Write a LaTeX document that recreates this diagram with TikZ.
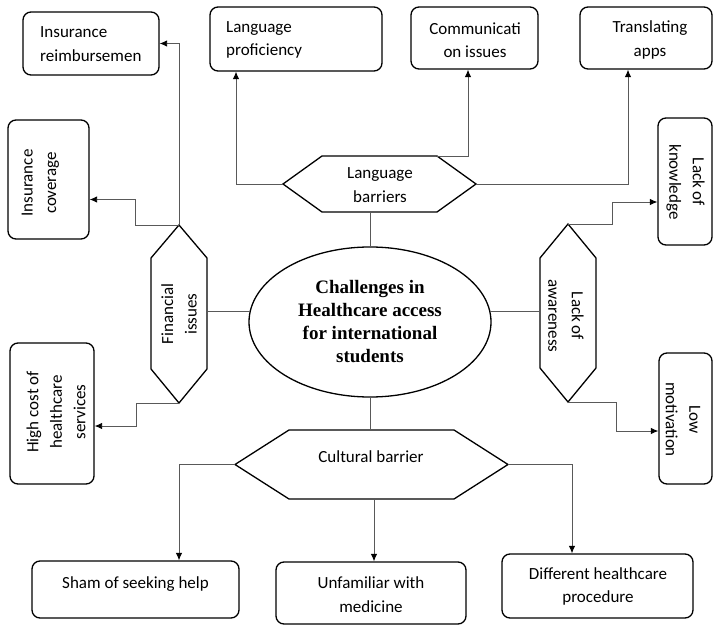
\documentclass[tikz,border=0pt]{standalone}
\usepackage{fontspec}
\setmainfont{Carlito}
\newfontfamily\ctrfont{Liberation Serif}
\usetikzlibrary{arrows.meta,calc,shapes.geometric}
\begin{document}
\begin{tikzpicture}[x=1bp,y=-1bp,
  box/.style={draw=black,line width=1.3bp,rounded corners=8bp,inner sep=0pt},
  txt/.style={font=\fontsize{17bp}{23.5bp}\selectfont,align=center,inner sep=0pt,text=black},
  hex/.style={draw=black,line width=1.3bp,line join=miter},
  link/.style={draw=black!65,line width=0.9bp},
  arr/.style={link,-{Latex[length=7.5bp,width=6.5bp,color=black]}}]
\useasboundingbox (0,0) rectangle (713,625);

% ---------- boxes ----------
\node[box,minimum width=136bp,minimum height=63bp] (ir) at (91,43.5) {};
\node[txt,anchor=west,align=left] (irt) at (40,44) {Insurance\\reimbursemen};
\node[box,minimum width=172bp,minimum height=64bp] (lp) at (296,39) {};
\node[txt,anchor=west,align=left] (lpt) at (226,40) {Language\\proficiency};
\node[box,minimum width=127bp,minimum height=62bp] (ci) at (474.5,38) {};
\node[txt] (cit) at (475,40) {Communicati\\on issues};
\node[box,minimum width=132bp,minimum height=62bp] (ta) at (646,38) {};
\node[txt] (tat) at (650,40) {Translating\\apps};

\node[box,minimum width=81bp,minimum height=119bp] (ic) at (48.5,179.5) {};
\node[txt,rotate=90] (ict) at (40.5,183) {Insurance\\coverage};
\node[box,minimum width=84bp,minimum height=141bp] (hc) at (52,413.5) {};
\node[txt,rotate=90] (hct) at (56,412) {High cost of\\healthcare\\services};

\node[box,minimum width=54bp,minimum height=127bp] (lk) at (685,181.5) {};
\node[txt,rotate=-90] (lkt) at (685.5,182) {Lack of\\knowledge};
\node[box,minimum width=53bp,minimum height=131bp] (lm) at (685.5,418.5) {};
\node[txt,rotate=-90] (lmt) at (683,419.5) {Low\\motivation};

\node[box,minimum width=207bp,minimum height=57bp] (sh) at (135.5,589.5) {};
\node[txt] (sht) at (135.5,584) {Sham of seeking help};
\node[box,minimum width=190bp,minimum height=62bp] (um) at (371,593) {};
\node[txt] (umt) at (371,594.5) {Unfamiliar with\\medicine};
\node[box,minimum width=191bp,minimum height=64bp] (dh) at (597.5,586) {};
\node[txt] (dht) at (598,586.5) {Different healthcare\\procedure};

% ---------- centre ----------
\node[draw=black,line width=1.3bp,ellipse,minimum width=242bp,minimum height=150bp,inner sep=0pt,
      font=\ctrfont\bfseries\fontsize{19bp}{23bp}\selectfont,align=center] (ctr) at (370,322)
      {Challenges in\\Healthcare access\\for international\\students};

% ---------- hexagons ----------
\coordinate (lb-w) at (283,184); \coordinate (lb-ne) at (437,156);
\coordinate (lb-e) at (476,184); \coordinate (lb-b) at (371,212);
\draw[hex] (lb-w) -- (322,156) -- (lb-ne) -- (lb-e) -- (437,212) -- (322,212) -- cycle;
\node[txt] (lbt) at (380,185) {Language\\barriers};

\coordinate (fi-n) at (179,225); \coordinate (fi-s) at (179,403); \coordinate (fi-r) at (207,314);
\draw[hex] (fi-n) -- (207,258) -- (207,369) -- (fi-s) -- (151,369) -- (151,258) -- cycle;
\node[txt,rotate=90] (fit) at (179,314) {Financial\\issues};

\coordinate (la-n) at (568,224); \coordinate (la-s) at (568,402); \coordinate (la-l) at (540,313);
\draw[hex] (la-n) -- (596,258) -- (596,368) -- (la-s) -- (540,368) -- (540,258) -- cycle;
\node[txt,rotate=-90] (lat) at (566,316) {Lack of\\awareness};

\coordinate (cb-w) at (235,464.5); \coordinate (cb-e) at (508,464.5);
\coordinate (cb-t) at (370,430); \coordinate (cb-b) at (374,499);
\draw[hex] (cb-w) -- (289,430) -- (454,430) -- (cb-e) -- (454,499) -- (289,499) -- cycle;
\node[txt] (cbt) at (371,457) {Cultural barrier};

% ---------- connectors ----------
\draw[link] (ctr.north) -- (ctr.north |- lb-b);
\draw[link] (ctr.south) -- (ctr.south |- cb-t);
\draw[link] (ctr.175) -- (ctr.175 -| fi-r);
\draw[link] (ctr.5) -- (ctr.5 -| la-l);

\draw[arr] (lb-w) -| ([xshift=-60bp]lp.south);
\draw[arr] (lb-ne) -| ([xshift=-6.5bp]ci.south);
\draw[arr] (lb-e) -| ([xshift=-18bp]ta.south);

\draw[arr] (fi-n) |- (ir.east);
\draw[arr] (fi-n) -- ++(-44,0) |- ([yshift=-20bp]ic.east);
\draw[arr] (fi-s) -- ++(-43,0) |- ([yshift=-12.5bp]hc.east);

\draw[arr] (la-n) -- ++(44,0) |- ([yshift=-20.5bp]lk.west);
\draw[arr] (la-s) -- ++(48,0) |- ([yshift=-12.5bp]lm.west);

\draw[arr] (cb-w) -| ([xshift=43.5bp]sh.north);
\draw[arr] (cb-b) -- (cb-b |- um.north);
\draw[arr] (cb-e) -| ([xshift=-25.5bp]dh.north);
\end{tikzpicture}
\end{document}
